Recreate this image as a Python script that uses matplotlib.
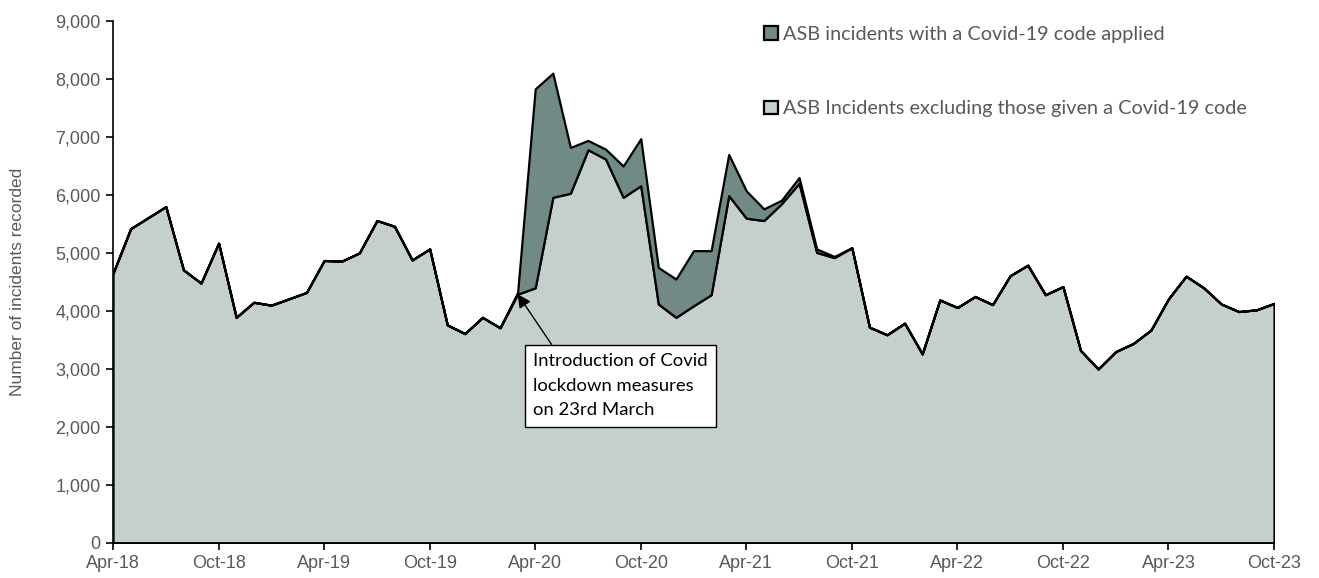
import numpy as np
import pandas as pd
import matplotlib
matplotlib.use('Agg')
import matplotlib.pyplot as plt
import matplotlib.ticker as mticker

# monthly values Apr-18 .. Oct-23
months = pd.date_range('2018-04-01', '2023-10-01', freq='MS')

excl_covid = [4650, 5420, 5610, 5800, 4710, 4480, 5170, 3890, 4150,
              4100, 4210, 4320, 4870, 4860, 5000, 5560, 5460, 4880, 5070, 3760, 3610,
              3890, 3710, 4290, 4400, 5960, 6030, 6780, 6620, 5960, 6160, 4120, 3890,
              4090, 4280, 5990, 5600, 5560, 5850, 6200, 5010, 4920, 5090, 3720, 3590,
              3790, 3260, 4190, 4060, 4250, 4110, 4610, 4790, 4280, 4420, 3320, 3000,
              3300, 3440, 3670, 4210, 4600, 4400, 4120, 3990, 4020, 4130]

with_covid = [0, 0, 0, 0, 0, 0, 0, 0, 0,
              0, 0, 0, 0, 0, 0, 0, 0, 0, 0, 0, 0,
              0, 0, 30, 3430, 2140, 790, 160, 170, 540, 810, 630, 660,
              950, 760, 710, 470, 200, 60, 100, 60, 20, 0, 0, 0,
              0, 0, 0, 0, 0, 0, 0, 0, 0, 0, 0, 0,
              0, 0, 0, 0, 0, 0, 0, 0, 0, 0]

lbl_excl = 'ASB Incidents excluding those given a Covid-19 code'
lbl_covid = 'ASB incidents with a Covid-19 code applied'

x = np.arange(len(months))
tick_pos = x[::6]
tick_lbl = [m.strftime('%b-%y') for m in months[::6]]

light = '#C5CFCD'
dark = '#718A85'
grey_txt = '#595959'

fig = plt.figure(figsize=(13.19, 5.78), dpi=100)
ax = fig.add_axes([0.0857, 0.0606, 0.8802, 0.9031])

polys = ax.stackplot(x, excl_covid, with_covid, colors=[light, dark],
                     edgecolor='black', linewidth=1.6,
                     labels=[lbl_excl, lbl_covid])

ax.set_xlim(0, len(months) - 1)
ax.set_ylim(0, 9000)
ax.set_xticks(tick_pos)
ax.set_xticklabels(tick_lbl)
ax.yaxis.set_major_locator(mticker.MultipleLocator(1000))
ax.yaxis.set_major_formatter(mticker.StrMethodFormatter('{x:,.0f}'))

for s in ['top', 'right']:
    ax.spines[s].set_visible(False)
for s in ['left', 'bottom']:
    ax.spines[s].set_color('black')
    ax.spines[s].set_linewidth(1.2)
ax.tick_params(axis='both', direction='out', length=5, width=1.2, color='black',
               labelsize=13, labelcolor=grey_txt, pad=4)
for t in ax.get_xticklabels() + ax.get_yticklabels():
    t.set_family('Liberation Sans')

ax.set_ylabel('Number of incidents recorded', fontsize=12.5, color=grey_txt,
              family='Liberation Sans', labelpad=22)

# legend (covid entry on top)
h, l = ax.get_legend_handles_labels()
leg = ax.legend(h[::-1], l[::-1], loc='upper left', bbox_to_anchor=(0.545, 1.025),
                frameon=False, handlelength=0.7, handleheight=0.7,
                handletextpad=0.25, labelspacing=2.9,
                prop={'family': 'Lato', 'size': 14.3})
for t in leg.get_texts():
    t.set_color(grey_txt)

# lockdown annotation
ax.annotate('Introduction of Covid\nlockdown measures\non 23rd March',
            xy=(x[23], excl_covid[23]), xytext=(23.88, 3270),
            fontsize=13.3, family='Lato', color='black', va='top', ha='left',
            linespacing=1.65,
            bbox=dict(boxstyle='square,pad=0.45', fc='white', ec='black', lw=1),
            arrowprops=dict(arrowstyle='-|>', color='black', lw=1,
                            mutation_scale=20, shrinkA=0, shrinkB=0,
                            relpos=(0.14, 1.0)))

fig.savefig('out.png', dpi=100)
